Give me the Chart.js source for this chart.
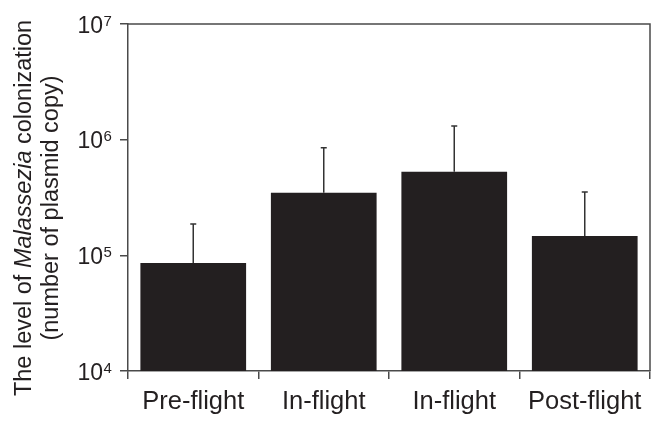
<!DOCTYPE html>
<html>
<head>
<meta charset="utf-8">
<script src="https://cdn.jsdelivr.net/npm/chart.js@4/dist/chart.umd.min.js"></script>
<style>
  html, body { margin: 0; padding: 0; background: #fff; }
  #wrap { width: 663px; height: 426px; }
</style>
</head>
<body>
<div id="wrap"><canvas id="c" width="663" height="426"></canvas></div>
<script>
// ---- data ----
const categories = ['Pre-flight', 'In-flight', 'In-flight', 'Post-flight'];
const meanValues = [86000, 347000, 527000, 147000];
const errorTops = [187000, 850000, 1310000, 352000];
const yTickValues = [10000, 100000, 1000000, 10000000];
const yTickExponents = ['4', '5', '6', '7'];
const titleLine1 = ['The level of ', 'Malassezia', ' colonization'];
const titleLine2 = '(number of plasmid copy)';

const BAR = '#231f20';
const AXIS = '#4a4a4a';
const TEXT = '#231f20';
const FONT = '"Liberation Sans", Arial, Helvetica, sans-serif';

const framePlugin = {
  id: 'frame',
  afterDatasetsDraw(chart) {
    const ctx = chart.ctx, a = chart.chartArea;
    ctx.save();
    // top and right frame lines
    ctx.strokeStyle = AXIS;
    ctx.lineWidth = 1.5;
    ctx.beginPath();
    ctx.moveTo(a.left, a.top);
    ctx.lineTo(a.right, a.top);
    ctx.lineTo(a.right, a.bottom);
    ctx.stroke();

    // error bars (upper only)
    const meta = chart.getDatasetMeta(0);
    const ys = chart.scales.y;
    ctx.strokeStyle = '#333';
    ctx.lineWidth = 1.5;
    meta.data.forEach((bar, i) => {
      const x = bar.x;
      const yTop = ys.getPixelForValue(errorTops[i]);
      const yBar = bar.y;
      ctx.beginPath();
      ctx.moveTo(x, yBar);
      ctx.lineTo(x, yTop);
      ctx.moveTo(x - 3, yTop);
      ctx.lineTo(x + 3, yTop);
      ctx.stroke();
    });

    // y tick labels with superscript exponents
    ctx.fillStyle = TEXT;
    yTickValues.forEach((v, i) => {
      const y = ys.getPixelForValue(v);
      ctx.font = '23px ' + FONT;
      ctx.textAlign = 'right';
      ctx.textBaseline = 'alphabetic';
      ctx.fillText('10', 103, y + 8.5);
      ctx.font = '15px ' + FONT;
      ctx.textAlign = 'left';
      ctx.fillText(yTickExponents[i], 103.5, y + 1.5);
    });

    // y axis title (two lines, rotated)
    const cy = 208;
    ctx.save();
    ctx.translate(31, cy);
    ctx.rotate(-Math.PI / 2);
    const fonts = ['23.5px ' + FONT, 'italic 23.5px ' + FONT, '23.5px ' + FONT];
    let total = 0;
    const widths = titleLine1.map((t, k) => { ctx.font = fonts[k]; const w = ctx.measureText(t).width; total += w; return w; });
    let x = -total / 2;
    ctx.textAlign = 'left';
    ctx.textBaseline = 'alphabetic';
    titleLine1.forEach((t, k) => { ctx.font = fonts[k]; ctx.fillText(t, x, 0); x += widths[k]; });
    ctx.restore();
    ctx.save();
    ctx.translate(58, cy);
    ctx.rotate(-Math.PI / 2);
    ctx.font = '23.5px ' + FONT;
    ctx.textAlign = 'center';
    ctx.textBaseline = 'alphabetic';
    ctx.fillText(titleLine2, 0, 0);
    ctx.restore();
    ctx.restore();
  }
};

new Chart(document.getElementById('c'), {
  type: 'bar',
  data: {
    labels: categories,
    datasets: [{
      data: meanValues,
      backgroundColor: BAR,
      borderWidth: 0,
      barPercentage: 0.81,
      categoryPercentage: 1.0
    }]
  },
  options: {
    responsive: false,
    animation: false,
    devicePixelRatio: 1,
    layout: { padding: { left: 0, right: 13, top: 24, bottom: 0 } },
    plugins: { legend: { display: false }, tooltip: { enabled: false } },
    scales: {
      x: {
        type: 'category',
        offset: true,
        grid: { offset: true, drawOnChartArea: false, drawTicks: true, tickLength: 8, color: AXIS, lineWidth: 1.5 },
        border: { display: true, color: AXIS, width: 1.5 },
        ticks: { color: TEXT, font: { family: FONT, size: 25.5 }, padding: 8, maxRotation: 0, autoSkip: false },
        afterFit(scale) { scale.height = 55; }
      },
      y: {
        type: 'logarithmic',
        min: 10000,
        max: 10000000,
        grid: { drawOnChartArea: false, drawTicks: true, tickLength: 8, color: AXIS, lineWidth: 1.5 },
        border: { display: true, color: AXIS, width: 1.5 },
        ticks: { display: false },
        afterBuildTicks(scale) { scale.ticks = yTickValues.map(v => ({ value: v })); },
        afterFit(scale) { scale.width = 128; }
      }
    }
  },
  plugins: [framePlugin]
});
</script>
</body>
</html>
